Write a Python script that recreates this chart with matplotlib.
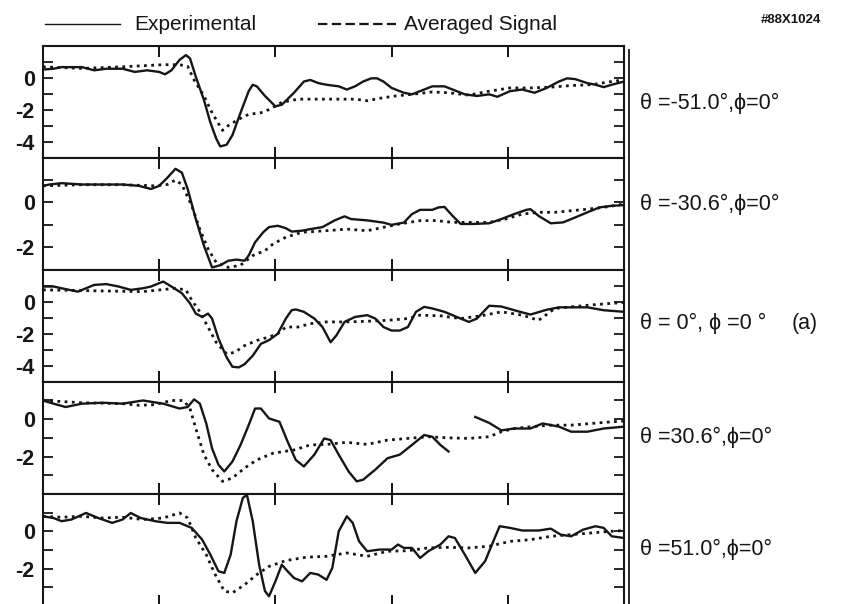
import matplotlib.pyplot as plt
from matplotlib.lines import Line2D

plt.rcParams['font.family'] = ['Liberation Sans', 'DejaVu Sans']
plt.rcParams['axes.unicode_minus'] = False

#==========================================================================
# values, x in % of the time window
exp_t1 = [0, 1.8, 3.2, 6.7, 8.8, 10.9, 13.7, 15.8, 17.9, 20, 21, 22.1, 23.5, 24.6, 25.3, 26.3,
          27.7, 28.8, 29.8, 30.5, 31.6, 32.6, 34.0, 35.4, 36.1, 36.8, 38.2, 40.0, 41.1, 43.2,
          44.9, 46.0, 47.4, 48.8, 50.9, 52.3, 53.7, 55.1, 56.5, 57.5, 58.6, 60.0, 62.1, 63.5,
          64.9, 67.0, 69.1, 70.5, 72.6, 74.7, 76.8, 78.2, 80.4, 82.5, 84.6, 86.7, 88.8, 90.2,
          91.6, 93.7, 95.1, 96.5, 97.9, 100]
exp_v1 = [0.5, 0.55, 0.65, 0.65, 0.45, 0.55, 0.55, 0.35, 0.45, 0.35, 0.2, 0.45, 1.1, 1.4, 1.2,
          0.05, -1.4, -2.8, -3.8, -4.3, -4.2, -3.6, -2.2, -0.85, -0.45, -0.55, -1.15, -1.8, -1.7,
          -0.95, -0.25, -0.15, -0.35, -0.45, -0.55, -0.75, -0.55, -0.25, -0.05, -0.05, -0.25,
          -0.65, -0.95, -1.05, -0.85, -0.55, -0.55, -0.75, -1.05, -1.15, -1.05, -1.2, -0.85,
          -0.75, -0.95, -0.65, -0.25, -0.05, -0.1, -0.35, -0.45, -0.6, -0.45, -0.25]
avg_t1 = [0, 6.7, 13.7, 20.7, 23.5, 24.9, 26.0, 27.7, 29.1, 30.9, 31.9, 33.7, 35.4, 37.5, 38.9,
          41.1, 43.9, 48.8, 53.7, 55.8, 57.9, 60.7, 63.5, 67.0, 69.8, 73.3, 76.8, 80.4, 83.9,
          87.4, 90.9, 94.4, 97.9, 100]
avg_v1 = [0.67, 0.57, 0.67, 0.8, 0.8, 0.7, -0.15, -1.15, -2.2, -3.3, -3.0, -2.6, -2.3, -2.2,
          -2.0, -1.55, -1.35, -1.35, -1.35, -1.45, -1.3, -1.15, -1.05, -0.9, -0.95, -1.1, -0.85,
          -0.65, -0.65, -0.6, -0.5, -0.45, -0.25, -0.15]

exp_t2 = [0, 1.1, 3.2, 6.7, 10.2, 13.7, 16.5, 18.6, 20, 21.4, 22.8, 23.9, 24.9, 26.3, 27.7, 29.1,
          30.5, 31.9, 33.3, 34.7, 35.4, 36.5, 37.9, 38.9, 40.4, 41.8, 42.8, 44.6, 46.0, 48.1,
          50.2, 51.9, 53.0, 55.8, 58.6, 60.0, 62.1, 63.5, 64.9, 67.0, 68.1, 69.1, 70.5, 71.9,
          74.0, 76.8, 78.9, 81.1, 83.2, 83.9, 85.3, 87.4, 89.5, 91.6, 93.7, 95.8, 97.9, 100]
exp_v2 = [0.74, 0.8, 0.86, 0.8, 0.8, 0.8, 0.74, 0.6, 0.74, 1.1, 1.5, 1.33, 0.6, -0.74, -1.93,
          -2.9, -2.8, -2.6, -2.55, -2.6, -2.37, -1.78, -1.33, -1.1, -1.04, -1.15, -1.3, -1.26,
          -1.19, -1.1, -0.8, -0.62, -0.74, -0.8, -0.9, -1.0, -0.9, -0.52, -0.33, -0.33, -0.22,
          -0.2, -0.6, -0.96, -0.96, -0.93, -0.74, -0.52, -0.33, -0.3, -0.6, -0.93, -0.89, -0.67,
          -0.44, -0.22, -0.15, -0.12]
avg_t2 = [0, 6.7, 13.7, 19.3, 21.4, 22.8, 23.9, 25.6, 27.0, 28.4, 29.8, 31.9, 34.0, 36.1, 38.2,
          39.6, 41.8, 44.6, 48.8, 52.3, 55.8, 58.6, 61.4, 64.9, 67.7, 70.5, 74.0, 76.8, 79.6,
          82.5, 85.3, 88.1, 90.9, 93.7, 96.5, 100]
avg_v2 = [0.74, 0.79, 0.79, 0.74, 0.8, 1.0, 0.8, -0.15, -1.2, -2.07, -2.67, -2.9, -2.8, -2.37,
          -2.15, -1.85, -1.55, -1.33, -1.26, -1.19, -1.26, -1.11, -0.96, -0.81, -0.81, -0.89,
          -0.89, -0.89, -0.74, -0.52, -0.44, -0.44, -0.37, -0.3, -0.22, -0.07]

exp_t3 = [0, 1.8, 3.2, 6.0, 8.8, 10.9, 13.0, 15.1, 17.2, 18.6, 20.0, 20.7, 22.1, 23.9, 25.3,
          26.3, 27.4, 28.4, 29.1, 30.2, 31.6, 32.6, 33.7, 34.7, 36.1, 37.5, 38.9, 40.4, 41.8,
          42.8, 43.5, 44.9, 46.7, 48.1, 49.5, 50.5, 51.9, 53.7, 55.8, 57.2, 58.6, 60.0, 61.4,
          62.8, 64.2, 65.6, 67.0, 69.1, 71.2, 73.3, 74.7, 76.8, 78.9, 81.8, 83.9, 86.7, 88.8,
          93.7, 96.5, 100]
exp_v3 = [0.95, 0.95, 0.84, 0.63, 1.05, 1.1, 0.95, 0.74, 0.84, 0.95, 1.16, 1.26, 0.95, 0.53,
          -0.1, -0.74, -0.95, -0.74, -1.05, -2.3, -3.47, -4.06, -4.1, -3.9, -3.37, -2.63, -2.4,
          -2.0, -1.05, -0.53, -0.48, -0.63, -1.05, -1.58, -2.53, -2.1, -1.26, -0.95, -0.84,
          -1.05, -1.58, -1.8, -1.8, -1.58, -0.63, -0.32, -0.42, -0.63, -0.95, -1.26, -1.05,
          -0.25, -0.3, -0.6, -0.8, -0.5, -0.35, -0.35, -0.53, -0.63]
avg_t3 = [0, 17.2, 22.8, 24.6, 25.6, 27.0, 28.4, 29.8, 31.6, 33.0, 34.7, 36.8, 38.9, 40.4, 41.8,
          43.9, 46.0, 48.8, 52.3, 55.8, 59.3, 62.8, 64.9, 68.4, 71.9, 75.4, 78.9, 82.5, 85.3,
          88.1, 90.9, 94.4, 97.9, 100]
avg_v3 = [0.74, 0.63, 0.84, 0.74, 0.1, -0.63, -1.58, -2.53, -3.26, -3.16, -2.74, -2.42, -2.2,
          -2.0, -1.58, -1.58, -1.37, -1.26, -1.26, -1.22, -1.16, -1.05, -0.84, -0.88, -1.05,
          -0.88, -0.63, -0.84, -1.16, -0.42, -0.32, -0.2, -0.1, -0.05]

nan = float('nan')
exp_t4 = [0, 1.8, 3.9, 6.7, 10.2, 13.7, 17.2, 20.7, 23.5, 24.9, 26.0, 27.0, 28.1, 29.1, 30.2,
          31.2, 32.6, 34.0, 35.4, 36.5, 37.5, 38.9, 40.7, 42.1, 43.5, 44.9, 46.7, 48.4, 49.5,
          50.9, 52.6, 54.0, 55.1, 57.2, 59.3, 61.4, 63.5, 65.6, 67.0, 68.4, 69.8, 72.0, 74.4,
          76.8, 78.9, 81.1, 83.9, 86.0, 88.8, 90.9, 93.7, 96.5, 100]
exp_v4 = [1.0, 0.83, 0.65, 0.83, 0.88, 0.83, 1.0, 0.83, 0.57, 0.65, 1.06, 0.83, -0.23, -1.56,
          -2.44, -2.8, -2.27, -1.38, -0.32, 0.57, 0.57, 0.04, -0.14, -1.2, -2.18, -2.53, -1.9,
          -1.03, -1.12, -1.9, -2.8, -3.33, -3.24, -2.7, -2.09, -1.9, -1.38, -0.85, -0.94, -1.38,
          -1.73, nan, 0.12, -0.2, -0.6, -0.5, -0.5, -0.23, -0.4, -0.67, -0.67, -0.5, -0.4]
avg_t4 = [0, 6.7, 13.7, 16.5, 19.3, 22.1, 24.2, 25.3, 26.3, 27.7, 29.1, 30.9, 32.6, 34.7, 36.8,
          39.6, 43.2, 46.0, 48.8, 52.3, 55.8, 59.3, 62.8, 66.3, 69.8, 73.3, 76.8, 78.9, 81.1,
          83.9, 87.4, 90.9, 94.4, 97.9, 100]
avg_v4 = [1.0, 0.88, 0.83, 0.74, 0.78, 1.0, 1.0, 0.57, -0.5, -1.9, -2.7, -3.33, -3.15, -2.62,
          -2.18, -1.82, -1.65, -1.38, -1.35, -1.24, -1.35, -1.12, -1.03, -0.94, -1.0, -1.03,
          -0.94, -0.67, -0.5, -0.41, -0.32, -0.32, -0.23, -0.14, -0.1]

exp_t5 = [0, 1.8, 3.2, 4.9, 7.4, 9.5, 11.9, 13.7, 15.1, 16.8, 19.3, 21.4, 23.5, 25.6, 27.4,
          28.8, 30.2, 31.2, 32.3, 33.3, 34.4, 35.1, 36.1, 37.2, 38.2, 38.9, 40.0, 41.1, 42.1,
          43.2, 44.6, 46.0, 47.4, 48.8, 49.8, 50.9, 52.3, 53.3, 54.4, 55.8, 57.9, 60.0, 61.1,
          62.1, 63.5, 64.9, 66.3, 68.4, 69.8, 70.9, 72.6, 74.4, 76.1, 77.5, 78.6, 80.4, 82.5,
          85.3, 87.4, 89.1, 90.9, 93.0, 95.1, 96.5, 97.9, 100]
exp_v5 = [0.8, 0.71, 0.54, 0.63, 0.98, 0.71, 0.45, 0.63, 0.98, 0.71, 0.54, 0.45, 0.45, 0.18,
          -0.45, -1.25, -2.14, -2.23, -1.25, 0.54, 1.79, 1.95, 0.54, -1.79, -3.2, -3.48, -2.68,
          -1.79, -2.14, -2.5, -2.68, -2.23, -2.32, -2.6, -1.96, 0.0, 0.8, 0.45, -0.54, -1.07,
          -0.98, -0.98, -0.71, -0.89, -0.89, -1.43, -1.07, -0.71, -0.27, -0.36, -1.25, -2.23,
          -1.6, -0.54, 0.27, 0.18, 0.04, 0.04, 0.14, -0.18, -0.27, 0.09, 0.27, 0.18, -0.27, -0.36]
avg_t5 = [0, 3.2, 6.7, 10.2, 13.7, 17.2, 20.7, 23.5, 24.9, 26.3, 28.1, 29.5, 31.2, 32.6, 34.7,
          36.8, 38.9, 41.8, 45.3, 48.8, 52.3, 55.8, 59.3, 62.8, 66.3, 69.8, 73.3, 76.8, 80.4,
          83.9, 87.4, 90.9, 94.4, 97.9, 100]
avg_v5 = [0.8, 0.75, 0.8, 0.71, 0.75, 0.63, 0.71, 0.98, 0.71, -0.36, -1.25, -2.23, -3.2, -3.3,
          -2.86, -2.32, -1.88, -1.57, -1.39, -1.34, -1.16, -1.34, -1.07, -1.04, -0.89, -0.86,
          -0.89, -0.8, -0.54, -0.45, -0.27, -0.18, -0.09, 0.0, 0.04]

angle_labels = ["θ =-51.0°,ϕ=0°", "θ =-30.6°,ϕ=0°", "θ = 0°, ϕ =0 °",
                "θ =30.6°,ϕ=0°", "θ =51.0°,ϕ=0°"]
ylims = [(-5, 2), (-3, 2), (-5, 2), (-4, 2), (-4, 2)]
xticks = [20, 40, 60, 80]

exp_t = [exp_t1, exp_t2, exp_t3, exp_t4, exp_t5]
exp_v = [exp_v1, exp_v2, exp_v3, exp_v4, exp_v5]
avg_t = [avg_t1, avg_t2, avg_t3, avg_t4, avg_t5]
avg_v = [avg_v1, avg_v2, avg_v3, avg_v4, avg_v5]
label_y = [103, 204, 323, 437, 549]

#==========================================================================
W, H = 854, 604
ink = '#161616'
fig = plt.figure(figsize=(W / 100, H / 100), dpi=100)
fig.patch.set_facecolor('white')

x0, x1 = 43, 624
top, ph = 45.5, 112.1

for i in range(5):
    ytop = top + i * ph
    ax = fig.add_axes([x0 / W, 1 - (ytop + ph) / H, (x1 - x0) / W, ph / H])
    ax.plot(exp_t[i], exp_v[i], color=ink, lw=1.7)
    ax.plot(avg_t[i], avg_v[i], color=ink, lw=2.0, linestyle=(0, (1, 1.6)))
    ax.set_xlim(0, 100)
    lo, hi = ylims[i]
    ax.set_ylim(lo, hi)
    ax.set_xticks(xticks)
    ax.set_xticklabels([])
    yt = list(range(lo + 1, hi))
    ax.set_yticks(yt)
    ax.set_yticklabels([str(v) if (v <= 0 and v % 2 == 0) else '' for v in yt],
                       fontsize=15.5, fontweight='bold')
    ax.tick_params(axis='y', direction='in', left=True, right=True, length=7, width=1.3,
                   pad=6, colors=ink)
    ax.tick_params(axis='x', direction='in', top=True, bottom=True, length=8, width=1.3)
    for s in ax.spines.values():
        s.set_linewidth(1.5)
        s.set_color(ink)
    fig.text(640 / W, 1 - label_y[i] / H, angle_labels[i], fontsize=15.5,
             ha='left', va='center', color=ink)

# second vertical rule right of the panels
fig.add_artist(Line2D([629.5 / W, 629.5 / W], [1 - 50 / H, 0], color=ink, lw=1.3))

# legend drawn by hand (short solid / dashed samples)
ly = 1 - 24 / H
fig.add_artist(Line2D([45 / W, 120 / W], [ly, ly], color=ink, lw=1.0))
fig.text(134 / W, ly, "Experimental", fontsize=15, ha='left', va='center', color=ink)
fig.add_artist(Line2D([318 / W, 396 / W], [ly, ly], color=ink, lw=1.6, dashes=(4.2, 2)))
fig.text(404 / W, ly, "Averaged Signal", fontsize=15, ha='left', va='center', color=ink)

fig.text(791 / W, 1 - 20 / H, "#88X1024", fontsize=9.5, fontweight='bold',
         ha='center', va='center', color=ink)
fig.text(792 / W, 1 - 323 / H, "(a)", fontsize=15.5, ha='left', va='center', color=ink)

plt.savefig("out.png", dpi=100)
